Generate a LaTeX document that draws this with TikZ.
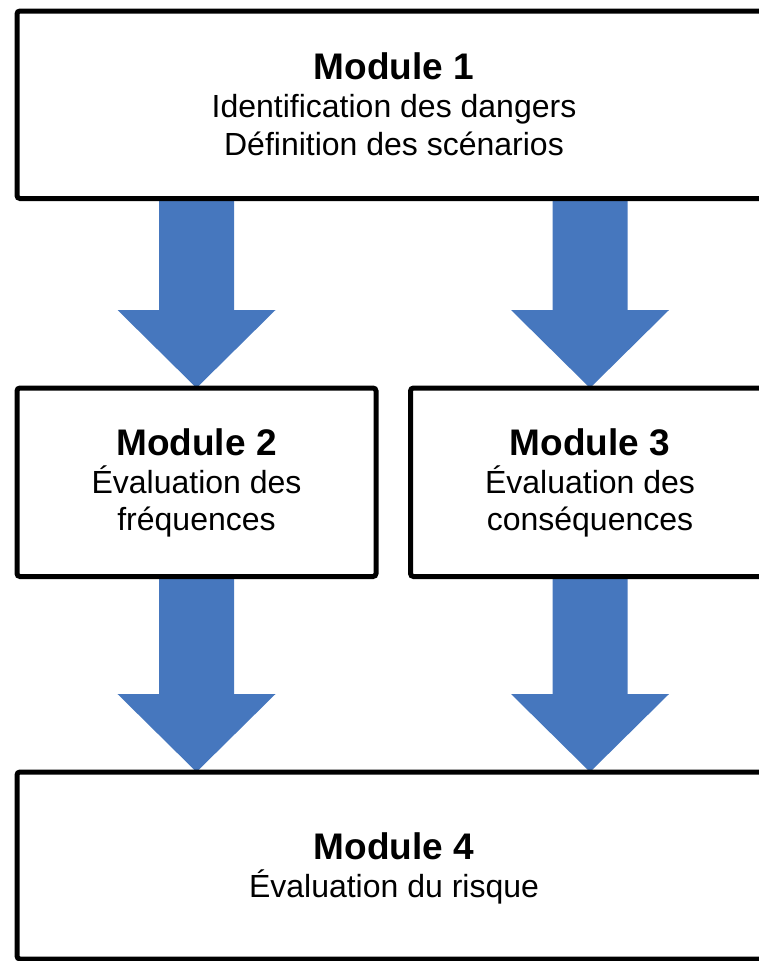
\documentclass[tikz,border=0pt]{standalone}
\usepackage{fontspec}
\setmainfont{Liberation Sans}
\usetikzlibrary{calc}
\definecolor{flowblue}{RGB}{70,119,190}
\pgfdeclarelayer{background}
\pgfsetlayers{background,main}
% Broad block arrow from a start point down to a tip point
\newcommand\blockarrow[2]{%
  \fill[flowblue] let \p1=(#1), \p2=(#2) in
    (\x1-37.5pt,\y1) -- (\x1+37.5pt,\y1) -- (\x1+37.5pt,\y2+78pt)
    -- (\x1+79pt,\y2+78pt) -- (\x2,\y2) -- (\x1-79pt,\y2+78pt)
    -- (\x1-37.5pt,\y2+78pt) -- cycle;}
\begin{document}
\begin{tikzpicture}[x=1pt,y=-1pt,
  modbox/.style={draw=black, line width=5pt, rounded corners=3pt,
    outer sep=0pt, inner sep=0pt, anchor=north west},
  modtitle/.style={anchor=base, inner sep=0pt,
    font=\fontsize{37}{40}\selectfont\bfseries},
  modtext/.style={anchor=base, inner sep=0pt,
    font=\fontsize{32}{38}\selectfont}]
\clip (0,0) rectangle (759,961);

% Module boxes
\node[modbox, minimum width=754pt, minimum height=187.5pt] (m1) at (17,11) {};
\node[modbox, minimum width=359pt, minimum height=188.5pt] (m2) at (17,388) {};
\node[modbox, minimum width=359pt, minimum height=188.5pt] (m3) at (410.5,388) {};
\node[modbox, minimum width=754pt, minimum height=187pt] (m4) at (17,772) {};

% Texts
\node[modtitle] (t1) at (394,79) {Module 1};
\node[modtext] (t1a) at (394,117) {Identification des dangers};
\node[modtext] (t1b) at (394,155) {Définition des scénarios};

\node[modtitle] (t2) at (196.5,455) {Module 2};
\node[modtext] (t2a) at (196.5,493) {Évaluation des};
\node[modtext] (t2b) at (196.5,530) {fréquences};

\node[modtitle] (t3) at (590,455) {Module 3};
\node[modtext] (t3a) at (590,493) {Évaluation des};
\node[modtext] (t3b) at (590,530) {conséquences};

\node[modtitle] (t4) at (394,859) {Module 4};
\node[modtext] (t4a) at (394,897) {Évaluation du risque};

% Block arrows behind the boxes
\begin{pgfonlayer}{background}
  \blockarrow{m2.north |- m1.south}{m2.north}
  \blockarrow{m3.north |- m1.south}{m3.north}
  \blockarrow{m2.south}{m2.south |- m4.north}
  \blockarrow{m3.south}{m3.south |- m4.north}
\end{pgfonlayer}
\end{tikzpicture}
\end{document}
